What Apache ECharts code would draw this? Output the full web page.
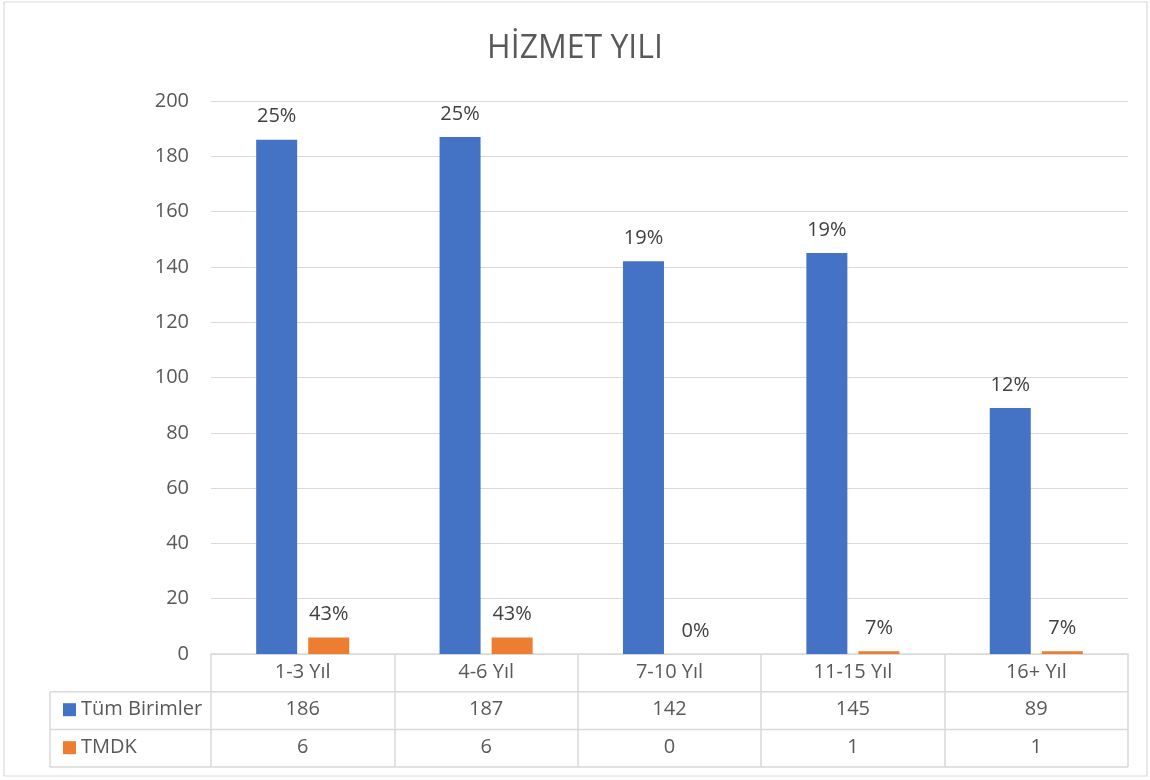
<!DOCTYPE html>
<html>
<head>
<meta charset="utf-8">
<script src="https://cdn.jsdelivr.net/npm/echarts@6/dist/echarts.min.js"></script>
<style>
  html, body { margin: 0; padding: 0; background: #fff; }
  #chart { width: 1150px; height: 780px; }
</style>
</head>
<body>
<div id="chart"></div>
<script>
// Hizmet yılı dağılımı: tüm birimler ve TMDK
const categories = ['1-3 Yıl', '4-6 Yıl', '7-10 Yıl', '11-15 Yıl', '16+ Yıl'];
const seriesNames = ['Tüm Birimler', 'TMDK'];
const tumBirimler = [186, 187, 142, 145, 89];
const tmdk = [6, 6, 0, 1, 1];
const yTicks = [0, 20, 40, 60, 80, 100, 120, 140, 160, 180, 200];

const BLUE = '#4472C4';
const ORANGE = '#ED7D31';
const TEXT = '#595959';
const LINE = '#D9D9D9';
const FONT = '"Open Sans", "Noto Sans", sans-serif';
const FS = 20;

// plot area
const G = { left: 211, right: 22, top: 101, bottom: 126 };
const W = 1150, H = 780;
const plotRight = W - G.right;
const axisY = H - G.bottom;
const rowH = 37.7;
const tableLeft = 50;

// share of each category within its series, shown above the bars
function shares(arr) {
  const total = arr.reduce((a, b) => a + b, 0);
  return arr.map(v => Math.round(v / total * 100) + '%');
}
const pctTum = shares(tumBirimler);
const pctTmdk = shares(tmdk);

const chart = echarts.init(document.getElementById('chart'), null, { renderer: 'canvas' });

const labelStyle = { show: true, position: 'top', distance: 13, fontSize: FS, color: '#404040', fontFamily: FONT };
const rule = (x1, y1, x2, y2) => ({
  type: 'line', shape: { x1, y1, x2, y2 }, style: { stroke: LINE, lineWidth: 1.5 }, silent: true
});

chart.setOption({
  animation: false,
  backgroundColor: '#fff',
  title: {
    text: 'HİZMET YILI',
    left: 'center',
    top: 28,
    textStyle: { fontFamily: FONT, fontSize: 32, fontWeight: 'normal', color: TEXT }
  },
  legend: {
    orient: 'vertical',
    left: 58,
    top: axisY + rowH + 3,
    itemWidth: 13,
    itemHeight: 13,
    itemGap: 18,
    icon: 'rect',
    data: seriesNames,
    textStyle: { fontFamily: FONT, fontSize: FS, color: TEXT, lineHeight: 20 }
  },
  grid: { left: G.left, right: G.right, top: G.top, bottom: G.bottom, containLabel: false },
  xAxis: [
    {
      type: 'category',
      data: categories,
      axisLine: { show: true, lineStyle: { color: LINE, width: 1.5 } },
      axisTick: { show: true, alignWithLabel: false, length: rowH * 3, lineStyle: { color: LINE, width: 1.5 } },
      axisLabel: { fontFamily: FONT, fontSize: FS, color: TEXT, margin: 8 }
    },
    {
      type: 'category',
      data: tumBirimler.map(String),
      position: 'bottom',
      offset: rowH,
      axisLine: { show: false },
      axisTick: { show: false },
      axisLabel: { fontFamily: FONT, fontSize: FS, color: TEXT, margin: 8 }
    },
    {
      type: 'category',
      data: tmdk.map(String),
      position: 'bottom',
      offset: rowH * 2,
      axisLine: { show: false },
      axisTick: { show: false },
      axisLabel: { fontFamily: FONT, fontSize: FS, color: TEXT, margin: 8 }
    }
  ],
  yAxis: {
    type: 'value',
    min: yTicks[0],
    max: yTicks[yTicks.length - 1],
    interval: yTicks[1] - yTicks[0],
    axisLine: { show: false },
    axisTick: { show: false },
    axisLabel: { fontFamily: FONT, fontSize: FS, color: TEXT, margin: 22 },
    splitLine: { lineStyle: { color: LINE, width: 1.2 } }
  },
  series: [
    {
      name: seriesNames[0],
      type: 'bar',
      data: tumBirimler,
      itemStyle: { color: BLUE },
      barWidth: 41,
      barGap: '27%',
      label: Object.assign({}, labelStyle, { formatter: p => pctTum[p.dataIndex] })
    },
    {
      name: seriesNames[1],
      type: 'bar',
      data: tmdk,
      itemStyle: { color: ORANGE },
      barWidth: 41,
      label: Object.assign({}, labelStyle, { formatter: p => pctTmdk[p.dataIndex] })
    }
  ],
  graphic: [
    // outer chart border
    { type: 'rect', shape: { x: 4, y: 2, width: 1143, height: 774 }, style: { fill: null, stroke: LINE, lineWidth: 1.2 }, silent: true },
    // data table: horizontal rules below each row
    rule(tableLeft, axisY + rowH, plotRight, axisY + rowH),
    rule(tableLeft, axisY + rowH * 2, plotRight, axisY + rowH * 2),
    rule(tableLeft, axisY + rowH * 3, plotRight, axisY + rowH * 3),
    // data table: left edge of the series-name column
    rule(tableLeft, axisY + rowH, tableLeft, axisY + rowH * 3)
  ]
});
</script>
</body>
</html>
